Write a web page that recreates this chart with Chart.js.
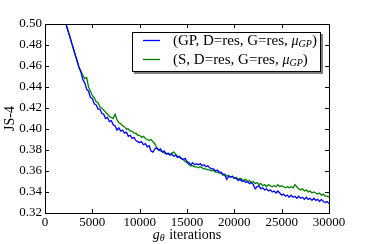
<!DOCTYPE html>
<html>
<head>
<meta charset="utf-8">
<script src="https://cdn.jsdelivr.net/npm/chart.js@4"></script>
<style>
  html, body { margin: 0; padding: 0; background: #fff; }
  #wrap { width: 366px; height: 244px; }
</style>
</head>
<body>
<div id="wrap"><canvas id="chart" width="366" height="244"></canvas></div>
<script>
/* JS-4 vs g_theta iterations, two runs */

const iterStart = 2000;
const iterStep  = 200;
const xTicks    = [0, 5000, 10000, 15000, 20000, 25000, 30000];
const yTicks    = [0.32, 0.34, 0.36, 0.38, 0.40, 0.42, 0.44, 0.46, 0.48, 0.50];

const gpValues = [
  0.512, 0.501, 0.494, 0.489, 0.482, 0.477, 0.470, 0.465, 0.458, 0.454,
  0.447, 0.444, 0.438, 0.436, 0.430, 0.429, 0.424, 0.423, 0.419, 0.419,
  0.415, 0.414, 0.410, 0.411, 0.407, 0.408, 0.404, 0.403, 0.399, 0.401,
  0.398, 0.399, 0.396, 0.397, 0.393, 0.394, 0.391, 0.392, 0.389, 0.388,
  0.387, 0.388, 0.385, 0.386, 0.383, 0.384, 0.379, 0.378, 0.381, 0.382,
  0.380, 0.381, 0.378, 0.379, 0.376, 0.377, 0.375, 0.376, 0.374, 0.375,
  0.373, 0.374, 0.372, 0.371, 0.372, 0.369, 0.368, 0.366, 0.368, 0.366,
  0.367, 0.366, 0.367, 0.365, 0.366, 0.364, 0.365, 0.363, 0.362, 0.362,
  0.360, 0.361, 0.359, 0.359, 0.357, 0.356, 0.352, 0.355, 0.354, 0.355,
  0.353, 0.353, 0.351, 0.352, 0.350, 0.351, 0.349, 0.350, 0.348, 0.349,
  0.347, 0.343, 0.345, 0.346, 0.343, 0.344, 0.342, 0.343, 0.341, 0.342,
  0.340, 0.341, 0.339, 0.341, 0.339, 0.337, 0.338, 0.336, 0.337, 0.335,
  0.337, 0.335, 0.336, 0.334, 0.336, 0.334, 0.335, 0.333, 0.335, 0.333,
  0.334, 0.332, 0.334, 0.332, 0.333, 0.331, 0.333, 0.331, 0.330, 0.331,
  0.329
];

const sValues = [
  0.512, 0.500, 0.495, 0.488, 0.483, 0.476, 0.471, 0.464, 0.459, 0.455,
  0.451, 0.448, 0.449, 0.440, 0.436, 0.432, 0.430, 0.426, 0.425, 0.421,
  0.420, 0.418, 0.416, 0.414, 0.412, 0.411, 0.410, 0.414, 0.409, 0.406,
  0.405, 0.403, 0.402, 0.400, 0.400, 0.398, 0.398, 0.396, 0.396, 0.394,
  0.394, 0.392, 0.393, 0.391, 0.390, 0.389, 0.390, 0.388, 0.386, 0.382,
  0.380, 0.379, 0.379, 0.377, 0.377, 0.376, 0.376, 0.377, 0.378, 0.376,
  0.374, 0.373, 0.372, 0.371, 0.369, 0.368, 0.366, 0.365, 0.365, 0.364,
  0.364, 0.363, 0.364, 0.363, 0.362, 0.362, 0.361, 0.361, 0.360, 0.361,
  0.359, 0.359, 0.358, 0.358, 0.356, 0.357, 0.355, 0.356, 0.354, 0.355,
  0.353, 0.354, 0.352, 0.353, 0.352, 0.351, 0.352, 0.350, 0.351, 0.349,
  0.350, 0.348, 0.349, 0.347, 0.348, 0.346, 0.347, 0.345, 0.347, 0.346,
  0.345, 0.346, 0.345, 0.347, 0.345, 0.346, 0.345, 0.344, 0.345, 0.344,
  0.345, 0.344, 0.347, 0.345, 0.343, 0.342, 0.343, 0.341, 0.342, 0.340,
  0.341, 0.339, 0.340, 0.339, 0.338, 0.339, 0.337, 0.338, 0.336, 0.336,
  0.335
];

const seriesNames  = ['(GP, D=res, G=res, ', '(S, D=res, G=res, '];
const seriesColors = ['#0000ff', '#008000'];

const FONT = '"Liberation Serif", "Times New Roman", serif';

const toPoints = vals => vals.map((v, i) => ({ x: iterStart + i * iterStep, y: v }));

// frame, inward ticks, axis titles and legend, matplotlib style
const framePlugin = {
  id: 'frame',
  afterDraw(chart) {
    const { ctx, chartArea: a, scales: { x, y } } = chart;
    ctx.save();
    ctx.strokeStyle = '#000';
    ctx.lineWidth = 1;
    ctx.strokeRect(Math.round(a.left) + 0.5, Math.round(a.top) + 0.5,
                   Math.round(a.right - a.left), Math.round(a.bottom - a.top));

    ctx.beginPath();
    const tl = 4;
    xTicks.forEach(v => {
      const px = Math.round(x.getPixelForValue(v)) + 0.5;
      ctx.moveTo(px, a.bottom); ctx.lineTo(px, a.bottom - tl);
      ctx.moveTo(px, a.top);    ctx.lineTo(px, a.top + tl);
    });
    yTicks.forEach(v => {
      const py = Math.round(y.getPixelForValue(v)) + 0.5;
      ctx.moveTo(a.left, py);  ctx.lineTo(a.left + tl, py);
      ctx.moveTo(a.right, py); ctx.lineTo(a.right - tl, py);
    });
    ctx.stroke();

    // y title
    ctx.fillStyle = '#000';
    ctx.font = '14px ' + FONT;
    ctx.save();
    ctx.translate(10, (a.top + a.bottom) / 2);
    ctx.rotate(-Math.PI / 2);
    ctx.textAlign = 'center';
    ctx.textBaseline = 'middle';
    ctx.fillText('JS-4', 0, 0);
    ctx.restore();

    // x title: g_theta iterations
    ctx.textBaseline = 'alphabetic';
    ctx.textAlign = 'left';
    const gW = (ctx.font = 'italic 14px ' + FONT, ctx.measureText('g').width);
    const thW = (ctx.font = 'italic 10px ' + FONT, ctx.measureText('θ').width) + 1;
    const restW = (ctx.font = '14px ' + FONT, ctx.measureText(' iterations').width);
    let tx = (a.left + a.right) / 2 - (gW + thW + restW) / 2;
    const ty = 239;
    ctx.font = 'italic 14px ' + FONT; ctx.fillText('g', tx, ty); tx += gW;
    ctx.font = 'italic 10px ' + FONT; ctx.fillText('θ', tx, ty + 2); tx += thW;
    ctx.font = '14px ' + FONT;        ctx.fillText(' iterations', tx, ty);

    // legend
    const lx = 132, ly = 32, lw = 188, lh = 39;
    ctx.fillStyle = '#7f7f7f';
    ctx.fillRect(lx + 2, ly + 2, lw + 1, lh + 1);
    ctx.fillStyle = '#fff';
    ctx.fillRect(lx, ly, lw, lh);
    ctx.strokeStyle = '#000';
    ctx.strokeRect(lx + 0.5, ly + 0.5, lw, lh);
    const rows = [41, 60];
    chart.data.datasets.forEach((ds, i) => {
      const ry = rows[i];
      ctx.strokeStyle = ds.borderColor;
      ctx.lineWidth = ds.borderWidth;
      ctx.beginPath();
      ctx.moveTo(143, ry - 0.5); ctx.lineTo(160, ry - 0.5);
      ctx.stroke();
      ctx.fillStyle = '#000';
      ctx.textBaseline = 'middle';
      let cx = 173;
      ctx.font = '15px ' + FONT;
      ctx.fillText(ds.label, cx, ry); cx += ctx.measureText(ds.label).width;
      ctx.font = 'italic 14px ' + FONT;
      ctx.fillText('μ', cx, ry); cx += ctx.measureText('μ').width;
      ctx.font = 'italic 10px ' + FONT;
      ctx.fillText('GP', cx, ry + 3); cx += ctx.measureText('GP').width;
      ctx.font = '15px ' + FONT;
      ctx.fillText(')', cx, ry);
    });
    ctx.restore();
  },
};

new Chart(document.getElementById('chart').getContext('2d'), {
  type: 'line',
  data: {
    datasets: [
      { label: seriesNames[0], data: toPoints(gpValues), borderColor: seriesColors[0], borderWidth: 1.3, pointRadius: 0, tension: 0, fill: false },
      { label: seriesNames[1], data: toPoints(sValues),  borderColor: seriesColors[1], borderWidth: 1.3, pointRadius: 0, tension: 0, fill: false },
    ],
  },
  options: {
    responsive: false, animation: false, devicePixelRatio: 1,
    layout: { padding: { top: 24, right: 37, left: 0, bottom: 0 } },
    plugins: { legend: { display: false }, tooltip: { enabled: false } },
    scales: {
      x: {
        type: 'linear', min: 0, max: 30000,
        afterFit: s => { s.height = 31; },
        afterBuildTicks: s => { s.ticks = xTicks.map(v => ({ value: v })); },
        grid: { display: false, drawTicks: false },
        border: { display: false },
        ticks: { color: '#000', padding: 2, maxRotation: 0, font: { family: FONT, size: 13 }, callback: v => String(v) },
      },
      y: {
        min: 0.32, max: 0.50,
        afterFit: s => { s.width = 45; },
        afterBuildTicks: s => { s.ticks = yTicks.map(v => ({ value: v })); },
        grid: { display: false, drawTicks: false },
        border: { display: false },
        ticks: { color: '#000', padding: 3, font: { family: FONT, size: 13 }, callback: v => v.toFixed(2) },
      },
    },
  },
  plugins: [framePlugin],
});
</script>
</body>
</html>
